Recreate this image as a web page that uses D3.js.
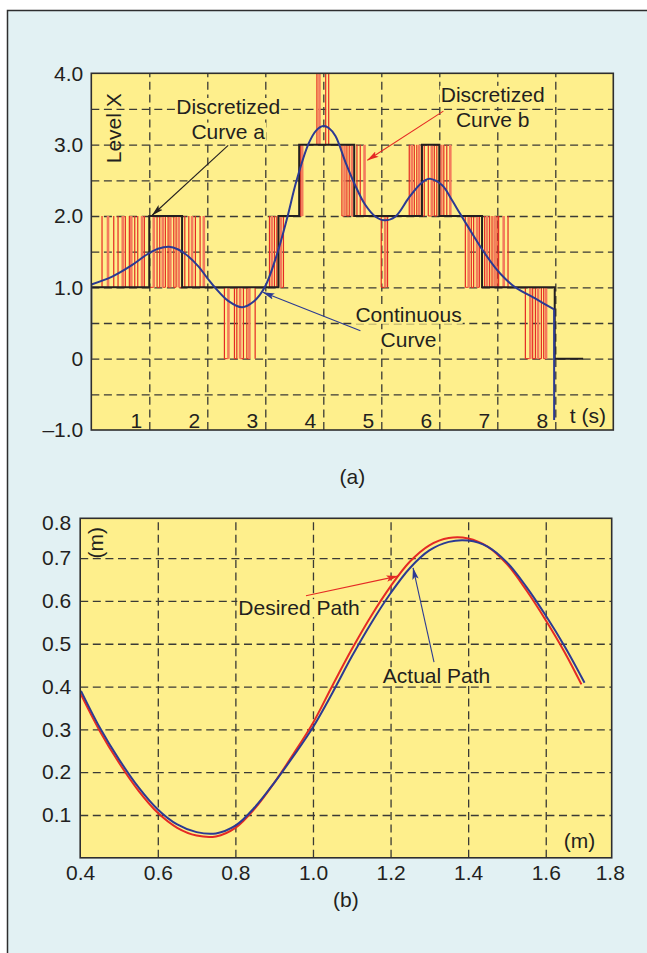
<!DOCTYPE html>
<html><head><meta charset="utf-8">
<script src="https://cdn.jsdelivr.net/npm/d3@7"></script>
<style>
html,body{margin:0;padding:0;background:#fff;}
svg{display:block;}
text{font-family:"Liberation Sans", Arial, Helvetica, sans-serif; fill:#231f20;}
</style></head><body>
<svg id="c" width="647" height="953"></svg>
<script>
// ================= DATA : chart (a) =================
const levelTicks = [-1, 0, 1, 2, 3, 4];
const levelTickLabels = ["\u20131.0", "0", "1.0", "2.0", "3.0", "4.0"];
const levelGrid = [-0.5, 0, 0.5, 1, 1.5, 2, 2.5, 3, 3.5];
const timeTicks = [1, 2, 3, 4, 5, 6, 7, 8];
const timeTickLabels = ["1", "2", "3", "4", "5", "6", "7", "8"];
// Discretized curve a (step, level held until next time)
const stepTimes  = [0, 1.0, 1.565, 3.227, 3.584, 4.533, 5.701, 6.0, 6.737, 7.99, 8.48];
const stepLevels = [1, 2, 1, 2, 3, 2, 3, 2, 1, 0, 0];
// Continuous curve
const contTimes  = [0, 0.36, 0.70, 0.96, 1.15, 1.34, 1.50, 1.68, 1.85, 2.00, 2.14, 2.36, 2.60, 2.80, 2.99, 3.20, 3.37, 3.54, 3.75, 3.88, 4.00, 4.10, 4.21, 4.38, 4.55, 4.72, 4.90, 5.06, 5.24, 5.47, 5.64, 5.75, 5.85, 6.05, 6.22, 6.36, 6.51, 6.74, 6.97, 7.15, 7.31, 7.66, 7.98];
const contValues = [1.04, 1.15, 1.31, 1.46, 1.54, 1.57, 1.53, 1.43, 1.29, 1.13, 0.99, 0.81, 0.72, 0.80, 1.00, 1.46, 1.95, 2.50, 3.02, 3.20, 3.26, 3.23, 3.12, 2.76, 2.43, 2.16, 1.99, 1.94, 1.99, 2.25, 2.42, 2.50, 2.52, 2.43, 2.22, 2.03, 1.83, 1.53, 1.27, 1.11, 1.00, 0.84, 0.69];
const contStartFrom = 0;     // vertical rise at t = 0
const contEndTo = -0.86;     // vertical drop at the end
// Discretized curve b (switching bursts between two adjacent levels)
const burstLow  = [1, 0, 1, 2, 3, 2, 1, 2, 1, 0];
const burstHigh = [2, 1, 2, 3, 4, 3, 2, 3, 2, 1];
const burstTimes = [
  [0.185,0.288,0.387,0.461,0.542,0.587,0.656,0.690,0.749,0.801,0.875,0.915,1.001,1.077,1.134,1.180,1.232,1.277,1.324,1.363,1.422,1.462,1.508,1.612,1.681,1.738,1.795,1.876,1.940],
  [2.295,2.364,2.468,2.509,2.566,2.623,2.682,2.726,2.825],
  [3.072,3.113,3.158,3.199,3.268,3.313],
  [3.610,3.636],
  [3.890,3.934,4.041,4.093],
  [4.321,4.366,4.407,4.447,4.494,4.580,4.637,4.711],
  [4.999,5.068,5.108],
  [5.482,5.525,5.569,5.612,5.655,5.741,5.810,5.871,5.914,5.957,6.035,6.078,6.129,6.190],
  [6.449,6.506,6.552,6.592,6.651,6.690,6.782,6.823,6.868,6.909,6.954,6.996,7.023,7.110,7.185],
  [7.484,7.570,7.610,7.657,7.703,7.760,7.800,7.841]
];
// annotations (data units)
const labelCurveA = ["Discretized", "Curve a"];
const labelCurveAAt = [2.36, 3.43];
const arrowCurveA = [[2.36, 2.99], [1.05, 2.01]];
const labelCurveB = ["Discretized", "Curve b"];
const labelCurveBAt = [6.92, 3.60];
const arrowCurveB = [[6.07, 3.47], [4.76, 2.78]];
const labelCont = ["Continuous", "Curve"];
const labelContAt = [5.47, 0.517];
const arrowCont = [[4.64, 0.39], [2.96, 0.93]];
const yLabelA = "Level X";
const yLabelAAt = [0.51, 3.23];
const xLabelA = "t (s)";
const xLabelAAt = [8.25, -0.895];

// ================= DATA : chart (b) =================
const pathXTicks = [0.4, 0.6, 0.8, 1.0, 1.2, 1.4, 1.6, 1.765];
const pathXTickLabels = ["0.4", "0.6", "0.8", "1.0", "1.2", "1.4", "1.6", "1.8"];
const pathXGrid = [0.6, 0.8, 1.0, 1.2, 1.4, 1.6];
const pathYTicks = [0.1, 0.2, 0.3, 0.4, 0.5, 0.6, 0.7, 0.783];
const pathYTickLabels = ["0.1", "0.2", "0.3", "0.4", "0.5", "0.6", "0.7", "0.8"];
const pathYGrid = [0.1, 0.2, 0.3, 0.4, 0.5, 0.6, 0.7];
const desiredX = [0.40, 0.45, 0.50, 0.55, 0.60, 0.65, 0.70, 0.75, 0.80, 0.85, 0.90, 0.95, 1.00, 1.05, 1.10, 1.15, 1.20, 1.25, 1.30, 1.35, 1.40, 1.45, 1.50, 1.55, 1.60, 1.65, 1.692];
const desiredY = [0.385, 0.297, 0.222, 0.157, 0.105, 0.070, 0.052, 0.050, 0.070, 0.115, 0.175, 0.243, 0.315, 0.402, 0.487, 0.565, 0.634, 0.692, 0.730, 0.747, 0.746, 0.727, 0.686, 0.625, 0.555, 0.478, 0.405];
const actualX  = [0.402, 0.45, 0.50, 0.55, 0.60, 0.65, 0.70, 0.75, 0.80, 0.85, 0.90, 0.95, 1.00, 1.05, 1.10, 1.15, 1.20, 1.25, 1.30, 1.35, 1.40, 1.45, 1.50, 1.55, 1.60, 1.65, 1.70];
const actualY  = [0.390, 0.305, 0.230, 0.165, 0.113, 0.078, 0.060, 0.057, 0.075, 0.118, 0.175, 0.238, 0.305, 0.385, 0.470, 0.548, 0.618, 0.677, 0.718, 0.738, 0.741, 0.727, 0.690, 0.633, 0.566, 0.492, 0.409];
const labelDesired = "Desired Path";
const labelDesiredAt = [0.8075, 0.567];
const arrowDesired = [[0.982, 0.612], [1.219, 0.658]];
const labelActual = "Actual Path";
const labelActualAt = [1.18, 0.408];
const arrowActual = [[1.312, 0.457], [1.258, 0.677]];
const yLabelB = "(m)";
const yLabelBAt = [0.459, 0.736];
const xLabelB = "(m)";
const xLabelBAt = [1.7275, 0.023];

// ================= STYLE =================
const FS = 21;
const C = {bg:"#e2f1f3", plot:"#feef8c", grid:"#3a3a35", frame:"#2e2e2e", black:"#231f20",
           red:"#e52a24", salmon:"#f47b5c", blue:"#2b3a93"};
const DASH = "8,4.6";

const svg = d3.select("#c");
svg.append("rect").attr("width",647).attr("height",953).attr("fill","#fff");
svg.append("rect").attr("x",7.5).attr("y",10.5).attr("width",700).attr("height",1000)
  .attr("fill",C.bg).attr("stroke",C.frame).attr("stroke-width",1.5);

const defs = svg.append("defs");
function marker(id, color){
  defs.append("marker").attr("id",id).attr("markerUnits","userSpaceOnUse")
    .attr("viewBox","0 -4 12 8").attr("refX",11.5).attr("refY",0)
    .attr("markerWidth",12).attr("markerHeight",8).attr("orient","auto")
    .append("path").attr("d","M0,-3.2L12,0L0,3.2L2.5,0Z").attr("fill",color);
}
marker("mBlack", C.black); marker("mRed", C.red); marker("mBlue", C.blue);

function styleGrid(g){
  g.select(".domain").remove();
  g.selectAll("line").attr("stroke",C.grid).attr("stroke-width",1.3).attr("stroke-dasharray",DASH);
  g.selectAll("text").remove();
}
function labelBox(g, lines, x, y, gap, anchor){
  lines.forEach((s,i)=>{
    const t = g.append("text").attr("x",x).attr("y",y+i*gap).attr("text-anchor",anchor)
      .attr("font-size",FS).text(s);
    const b = t.node().getBBox();
    g.insert("rect","text").attr("x",b.x-1).attr("y",y+i*gap-0.76*FS)
      .attr("width",b.width+2).attr("height",0.86*FS).attr("fill",C.plot);
  });
}
function arrow(g, pts, sx, sy, color, mid){
  g.append("line").attr("x1",sx(pts[0][0])).attr("y1",sy(pts[0][1]))
    .attr("x2",sx(pts[1][0])).attr("y2",sy(pts[1][1]))
    .attr("stroke",color).attr("stroke-width",1.1).attr("marker-end",`url(#${mid})`);
}

// ================= CHART (a) =================
const A = {x0:91.3, x1:613.3, y0:73.3, y1:430};
const xA = d3.scaleLinear().domain([0,9]).range([A.x0,A.x1]);
const yA = d3.scaleLinear().domain([-1,4]).range([A.y1,A.y0]);
const gA = svg.append("g");
gA.append("rect").attr("x",A.x0).attr("y",A.y0).attr("width",A.x1-A.x0).attr("height",A.y1-A.y0).attr("fill",C.plot);
defs.append("clipPath").attr("id","clipA").append("rect")
  .attr("x",A.x0).attr("y",A.y0).attr("width",A.x1-A.x0).attr("height",A.y1-A.y0);

gA.append("g").attr("transform",`translate(${A.x0},0)`)
  .call(d3.axisLeft(yA).tickValues(levelGrid).tickSize(-(A.x1-A.x0)).tickFormat("")).call(styleGrid);
gA.append("g").attr("transform",`translate(0,${A.y1})`)
  .call(d3.axisBottom(xA).tickValues(timeTicks).tickSize(-(A.y1-A.y0)).tickFormat("")).call(styleGrid);

labelBox(gA, labelCurveA, xA(labelCurveAAt[0]), yA(labelCurveAAt[1]), 24.6, "middle");
labelBox(gA, labelCurveB, xA(labelCurveBAt[0]), yA(labelCurveBAt[1]), 25, "middle");
labelBox(gA, labelCont, xA(labelContAt[0]), yA(labelContAt[1]), 25, "middle");

const dA = gA.append("g").attr("clip-path","url(#clipA)");
// discretized curve b
burstTimes.forEach((ts,k)=>{
  const lo = burstLow[k], hi = burstHigh[k];
  for(let i=0;i+1<ts.length;i+=2){
    dA.append("line").attr("x1",xA(ts[i])).attr("x2",xA(ts[i+1]))
      .attr("y1",yA(lo)).attr("y2",yA(lo)).attr("stroke",C.red).attr("stroke-width",1);
  }
  ts.forEach((t,i)=>{
    const wide = (i%3===1);
    dA.append("line").attr("x1",xA(t)).attr("x2",xA(t)).attr("y1",yA(lo)).attr("y2",yA(hi))
      .attr("stroke", wide?C.salmon:C.red).attr("stroke-width", wide?2.6:1.2);
  });
});
// discretized curve a
dA.append("path").attr("d", d3.line().x(d=>xA(d[0])).y(d=>yA(d[1])).curve(d3.curveStepAfter)(d3.zip(stepTimes, stepLevels)))
  .attr("fill","none").attr("stroke",C.black).attr("stroke-width",2);
// continuous curve
const contPts = d3.zip(contTimes, contValues);
dA.append("path").attr("d", d3.line().x(d=>xA(d[0])).y(d=>yA(d[1])).curve(d3.curveCatmullRom.alpha(0.5))(contPts))
  .attr("fill","none").attr("stroke",C.blue).attr("stroke-width",2);
const lin = d3.line().x(d=>xA(d[0])).y(d=>yA(d[1]));
dA.append("path").attr("d", lin([[contTimes[0],contStartFrom],contPts[0]]))
  .attr("fill","none").attr("stroke",C.blue).attr("stroke-width",2);
dA.append("path").attr("d", lin([contPts[contPts.length-1],[contTimes[contTimes.length-1],contEndTo]]))
  .attr("fill","none").attr("stroke",C.blue).attr("stroke-width",2);

arrow(gA, arrowCurveA, xA, yA, C.black, "mBlack");
arrow(gA, arrowCurveB, xA, yA, C.red, "mRed");
arrow(gA, arrowCont, xA, yA, C.blue, "mBlue");

gA.append("rect").attr("x",A.x0).attr("y",A.y0).attr("width",A.x1-A.x0).attr("height",A.y1-A.y0)
  .attr("fill","none").attr("stroke",C.frame).attr("stroke-width",1.6);

const axYA = gA.append("g").attr("transform",`translate(${A.x0},0)`)
  .call(d3.axisLeft(yA).tickValues(levelTicks).tickFormat((d,i)=>levelTickLabels[i]).tickSize(0).tickPadding(8));
axYA.select(".domain").remove();
axYA.selectAll("text").attr("font-size",FS).attr("font-family",null).attr("fill",C.black);
const axXA = gA.append("g").attr("transform",`translate(0,${A.y1})`)
  .call(d3.axisBottom(xA).tickValues(timeTicks).tickFormat((d,i)=>timeTickLabels[i]).tickSize(0));
axXA.select(".domain").remove();
axXA.selectAll("text").attr("font-size",FS).attr("font-family",null).attr("fill",C.black)
  .attr("text-anchor","end").attr("x",-7.5).attr("y",-2).attr("dy",0);
gA.append("text").attr("x",xA(xLabelAAt[0])).attr("y",yA(xLabelAAt[1])).attr("font-size",FS).text(xLabelA);
gA.append("text").attr("transform",`translate(${xA(yLabelAAt[0])},${yA(yLabelAAt[1])}) rotate(-90)`)
  .attr("text-anchor","middle").attr("font-size",FS).text(yLabelA);
gA.append("text").attr("x",(A.x0+A.x1)/2).attr("y",484).attr("text-anchor","middle").attr("font-size",FS).text("(a)");

// ================= CHART (b) =================
const B = {x0:80.2, x1:611.7, y0:518.3, y1:857.8};
const xB = d3.scaleLinear().domain([0.4,1.77]).range([B.x0,B.x1]);
const yB = d3.scaleLinear().domain([0,0.793]).range([B.y1,B.y0]);
const gB = svg.append("g");
gB.append("rect").attr("x",B.x0).attr("y",B.y0).attr("width",B.x1-B.x0).attr("height",B.y1-B.y0).attr("fill",C.plot);
defs.append("clipPath").attr("id","clipB").append("rect")
  .attr("x",B.x0).attr("y",B.y0).attr("width",B.x1-B.x0).attr("height",B.y1-B.y0);
gB.append("g").attr("transform",`translate(${B.x0},0)`)
  .call(d3.axisLeft(yB).tickValues(pathYGrid).tickSize(-(B.x1-B.x0)).tickFormat("")).call(styleGrid);
gB.append("g").attr("transform",`translate(0,${B.y1})`)
  .call(d3.axisBottom(xB).tickValues(pathXGrid).tickSize(-(B.y1-B.y0)).tickFormat("")).call(styleGrid);

labelBox(gB, [labelDesired], xB(labelDesiredAt[0]), yB(labelDesiredAt[1]), 0, "start");
labelBox(gB, [labelActual], xB(labelActualAt[0]), yB(labelActualAt[1]), 0, "start");

const dB = gB.append("g").attr("clip-path","url(#clipB)");
const lineB = d3.line().x(d=>xB(d[0])).y(d=>yB(d[1])).curve(d3.curveCatmullRom.alpha(0.5));
dB.append("path").attr("d", lineB(d3.zip(desiredX, desiredY)))
  .attr("fill","none").attr("stroke",C.red).attr("stroke-width",2);
dB.append("path").attr("d", lineB(d3.zip(actualX, actualY)))
  .attr("fill","none").attr("stroke",C.blue).attr("stroke-width",2);

arrow(gB, arrowDesired, xB, yB, C.red, "mRed");
arrow(gB, arrowActual, xB, yB, C.blue, "mBlue");

gB.append("rect").attr("x",B.x0).attr("y",B.y0).attr("width",B.x1-B.x0).attr("height",B.y1-B.y0)
  .attr("fill","none").attr("stroke",C.frame).attr("stroke-width",1.6);

const axYB = gB.append("g").attr("transform",`translate(${B.x0},0)`)
  .call(d3.axisLeft(yB).tickValues(pathYTicks).tickFormat((d,i)=>pathYTickLabels[i]).tickSize(0).tickPadding(9));
axYB.select(".domain").remove();
axYB.selectAll("text").attr("font-size",FS).attr("font-family",null).attr("fill",C.black);
const axXB = gB.append("g").attr("transform",`translate(0,${B.y1})`)
  .call(d3.axisBottom(xB).tickValues(pathXTicks).tickFormat((d,i)=>pathXTickLabels[i]).tickSize(0));
axXB.select(".domain").remove();
axXB.selectAll("text").attr("font-size",FS).attr("font-family",null).attr("fill",C.black)
  .attr("y",22).attr("dy",0);
gB.append("text").attr("x",xB(xLabelBAt[0])).attr("y",yB(xLabelBAt[1])).attr("text-anchor","end")
  .attr("font-size",FS).text(xLabelB);
gB.append("text").attr("transform",`translate(${xB(yLabelBAt[0])},${yB(yLabelBAt[1])}) rotate(-90)`)
  .attr("text-anchor","middle").attr("font-size",FS).text(yLabelB);
gB.append("text").attr("x",(B.x0+B.x1)/2).attr("y",907).attr("text-anchor","middle").attr("font-size",FS).text("(b)");
</script>
</body></html>
